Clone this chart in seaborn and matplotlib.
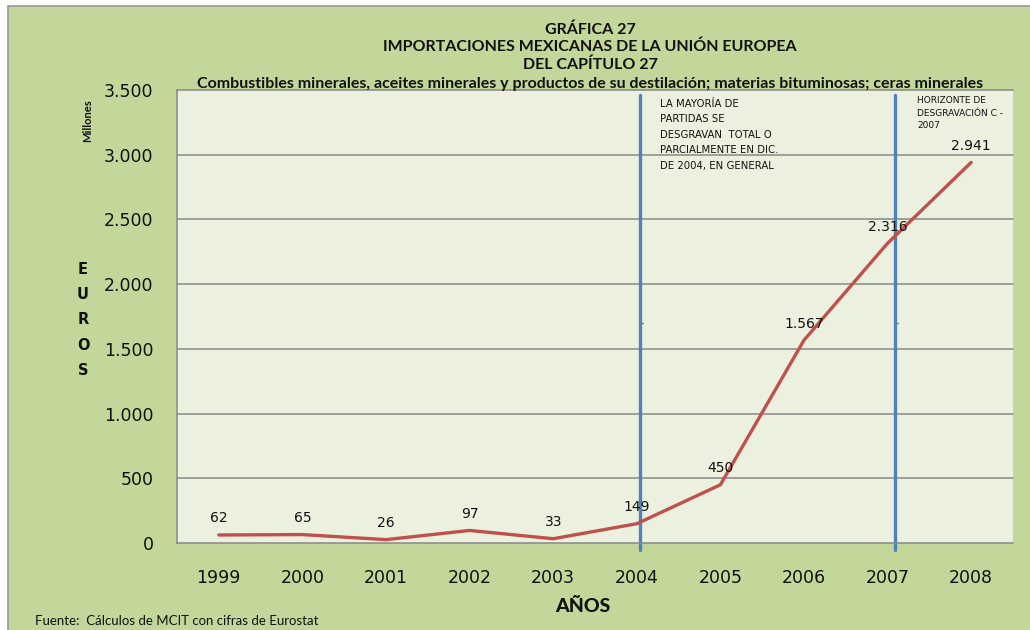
import numpy as np
import pandas as pd
import matplotlib
matplotlib.use("Agg")
import matplotlib.pyplot as plt
import seaborn as sns
from matplotlib.patches import Rectangle

# ---- data ----
years = ["1999", "2000", "2001", "2002", "2003", "2004", "2005", "2006", "2007", "2008"]
values = [62, 65, 26, 97, 33, 149, 450, 1567, 2316, 2941]
value_labels = ["62", "65", "26", "97", "33", "149", "450", "1.567", "2.316", "2.941"]
y_ticks = [0, 500, 1000, 1500, 2000, 2500, 3000, 3500]
y_tick_labels = ["0", "500", "1.000", "1.500", "2.000", "2.500", "3.000", "3.500"]
title_lines = ["GRÁFICA 27",
               "IMPORTACIONES MEXICANAS DE LA UNIÓN EUROPEA",
               "DEL CAPÍTULO 27",
               "Combustibles minerales, aceites minerales y productos de su destilación; materias bituminosas; ceras minerales"]
note_2004 = "LA MAYORÍA DE\nPARTIDAS SE\nDESGRAVAN  TOTAL O\nPARCIALMENTE EN DIC.\nDE 2004, EN GENERAL"
note_2007 = "HORIZONTE DE\nDESGRAVACIÓN C -\n2007"
source_text = "Fuente:  Cálculos de MCIT con cifras de Eurostat"

df = pd.DataFrame({"year": years, "value": values})

sns.set_theme(style="white")
plt.rcParams["font.family"] = ["DejaVu Sans"]

OUTER = "#C4D79B"
INNER = "#EBF1DE"
RED = "#C0504D"
BLUE = "#4F81BD"
GRID = "#888888"

W, H = 1030, 630
fig = plt.figure(figsize=(W / 100, H / 100), dpi=100, facecolor="white")
# outer green chart area with grey border
fig.patches.append(Rectangle((8 / W, -0.01), 1.02, 1 - 6 / H + 0.01, transform=fig.transFigure,
                             facecolor=OUTER, edgecolor="#9A9A9A", linewidth=1.2, zorder=-5))

ax = fig.add_axes([177 / W, 1 - 543 / H, (1013 - 177) / W, (543 - 90) / H])
ax.set_zorder(1)
ax.set_facecolor(INNER)

sns.lineplot(data=df, x="year", y="value", sort=False, color=RED, linewidth=2.4, ax=ax, zorder=3)

ax.set_xlim(-0.5, len(years) - 0.5)
ax.set_ylim(0, 3500)
ax.set_yticks(y_ticks)
ax.set_yticklabels(y_tick_labels, fontsize=12.5, color="#111111")
ax.set_xticks(np.arange(len(years)))
ax.set_xticklabels(years, fontsize=12.5, color="#111111")
ax.set_xticks(np.arange(len(years) + 1) - 0.5, minor=True)
ax.tick_params(axis="x", which="major", length=0, pad=19)
ax.tick_params(axis="x", which="minor", length=5, color=GRID, width=1, direction="out")
ax.tick_params(axis="y", which="major", length=5, color=GRID, width=1, direction="out", pad=12)
ax.set_xlabel("")
ax.set_ylabel("")

for y in y_ticks[1:]:
    ax.axhline(y, color=GRID, linewidth=1.1, zorder=1, clip_on=False)

for side in ["top", "right"]:
    ax.spines[side].set_visible(False)
for side in ["left", "bottom"]:
    ax.spines[side].set_color(GRID)
    ax.spines[side].set_linewidth(1.1)

# data labels
for i, lab in enumerate(value_labels):
    ax.annotate(lab, (i, values[i]), xytext=(0, 12), textcoords="offset points",
                ha="center", va="center", fontsize=10, color="#111111", zorder=4)

# vertical marker lines
for xpos in (5.04, 8.09):
    ax.axvline(xpos, ymin=-0.016, ymax=0.989, color=BLUE, linewidth=2.4, clip_on=False, zorder=2)
    ax.plot([xpos, xpos + 0.04], [1700, 1700], color=BLUE, linewidth=1, zorder=2)

ax.text(660 / W, 1 - 99 / H, note_2004, transform=fig.transFigure, ha="left", va="top",
        fontsize=7.3, linespacing=1.68, color="#111111")
ax.text(917 / W, 1 - 96 / H, note_2007, transform=fig.transFigure, ha="left", va="top",
        fontsize=6.5, linespacing=1.5, color="#111111")

# titles
title_y = [30, 47, 65, 84]
for line, yy in zip(title_lines, title_y):
    fig.text(590 / W, 1 - yy / H, line, ha="center", va="center", fontsize=11.5,
             fontweight="bold", family=["Lato", "DejaVu Sans"], color="#111111")

fig.text(83 / W, 1 - 320 / H, "E\nU\nR\nO\nS", ha="center", va="center", fontsize=10.5,
         fontweight="bold", linespacing=1.85, color="#111111")
fig.text(88 / W, 1 - 121 / H, "Millones", ha="center", va="center", rotation=90,
         fontsize=8, fontweight="bold", family=["Lato", "DejaVu Sans"], color="#111111")
fig.text(583 / W, 1 - 607 / H, "AÑOS", ha="center", va="center", fontsize=14,
         fontweight="black", family=["Lato", "DejaVu Sans"], color="#111111")
fig.text(35 / W, 1 - 621 / H, source_text, ha="left", va="center", fontsize=9.5,
         family=["Lato", "DejaVu Sans"], color="#111111")

fig.savefig("out.png", dpi=100, facecolor=fig.get_facecolor())
